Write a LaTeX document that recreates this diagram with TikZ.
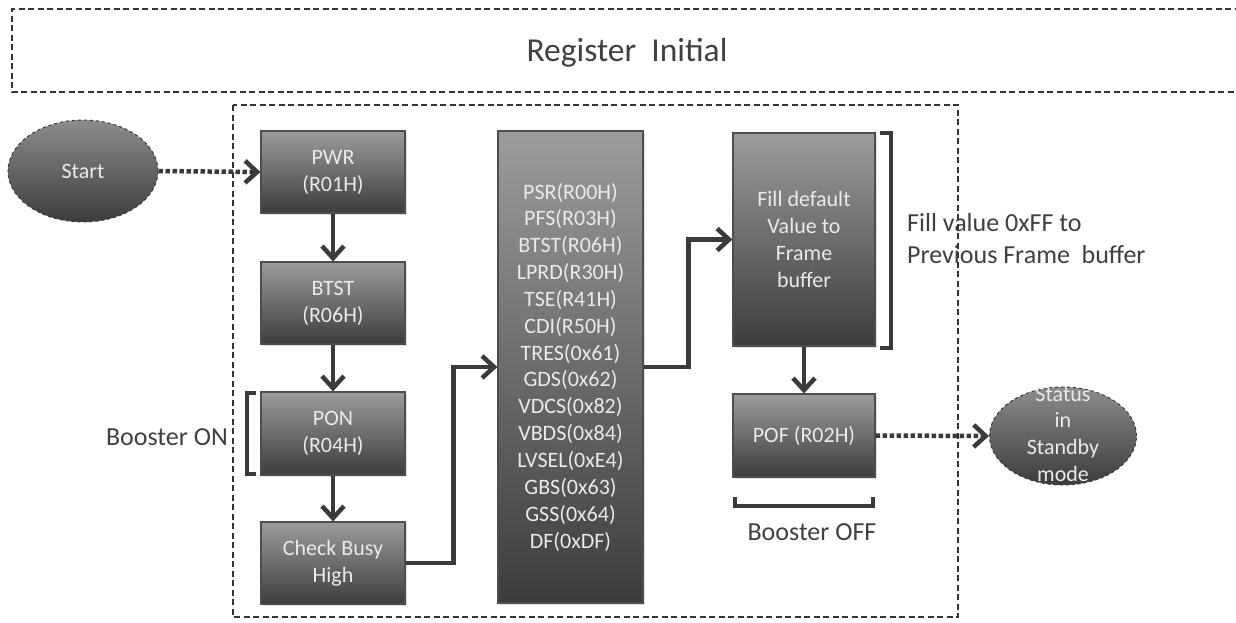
\documentclass[tikz,border=0pt]{standalone}
\usepackage{fontspec}
\setmainfont{Carlito}
\usetikzlibrary{arrows.meta,shapes.geometric,shadows}
\definecolor{linec}{HTML}{3A3A3A}
\definecolor{boxtop}{HTML}{9C9C9C}
\definecolor{boxbot}{HTML}{3C3C3C}
\definecolor{boxtxt}{HTML}{EAEAEA}
\definecolor{labtxt}{HTML}{404040}
\tikzset{
  stepbox/.style={rectangle, draw=linec!90, line width=1.2pt, top color=boxtop, bottom color=boxbot,
    text=boxtxt, align=center, minimum width=#1, inner sep=0pt,
    font=\fontsize{22}{27}\selectfont,
    drop shadow={shadow xshift=2pt, shadow yshift=-2pt, opacity=0.25}},
  stepbox/.default=144pt,
  ovalnode/.style={ellipse, draw=linec, dashed, line width=1pt, top color=boxtop!90!black, bottom color=boxbot,
    inner sep=0pt, minimum width=#1},
  flow/.style={draw=linec, line width=4.5pt, -{Straight Barb[length=12pt,width=22pt]}},
  dotflow/.style={draw=linec, line width=4.5pt, dash pattern=on 4.5pt off 2.5pt, -{Straight Barb[length=12pt,width=22pt]}},
  bracketline/.style={draw=linec, line width=4pt},
  framebox/.style={draw=black!80, line width=1.1pt, dash pattern=on 6pt off 3.5pt},
  labeltext/.style={text=labtxt, inner sep=0pt, font=\fontsize{26}{32}\selectfont},
}
\begin{document}
\begin{tikzpicture}[x=1pt,y=-1pt]
\useasboundingbox (0,0) rectangle (1236,622);
\fill[white] (0,0) rectangle (1236,622);
% frames
\draw[framebox] (1250,9) -- (12,9) -- (12,92) -- (1250,92);
\node[text=labtxt, font=\fontsize{33.5}{40}\selectfont] (title) at (627,53) {Register\ \ Initial};
\draw[framebox] (233,105) rectangle (958,617);
% nodes
\node[ovalnode=150pt, minimum height=102pt] (start) at (83,171) {};
\node[text=boxtxt, font=\fontsize{22}{27}\selectfont] (starttxt) at (start.center) {Start};
\node[stepbox, minimum height=82pt] (pwr) at (333,172) {PWR\\(R01H)};
\node[stepbox, minimum height=82pt] (btst) at (333,303) {BTST\\(R06H)};
\node[stepbox, minimum height=83pt] (pon) at (333,433.5) {PON\\(R04H)};
\node[stepbox, minimum height=82pt] (chk) at (333,563) {Check Busy\\High};
\node[stepbox=145pt, minimum height=472pt, font=\fontsize{22}{26.85}\selectfont] (reg) at (570.5,367)
  {PSR(R00H)\\PFS(R03H)\\BTST(R06H)\\LPRD(R30H)\\TSE(R41H)\\CDI(R50H)\\TRES(0x61)\\GDS(0x62)\\VDCS(0x82)\\VBDS(0x84)\\LVSEL(0xE4)\\GBS(0x63)\\GSS(0x64)\\DF(0xDF)};
\node[stepbox=142pt, minimum height=213pt] (fill) at (804,239.5) {Fill default\\Value to\\Frame\\buffer};
\node[stepbox=142pt, minimum height=83pt] (pof) at (804,435.5) {POF (R02H)};
\node[ovalnode=147pt, minimum height=98pt] (status) at (1063,436) {};
\node[text=boxtxt, align=center, font=\fontsize{22}{26.7}\selectfont] (statustxt) at (1063,434) {Status\\in\\Standby\\mode};
% connectors
\draw[dotflow] (start.east) -- (pwr.west);
\draw[flow] (pwr.south) -- (btst.north);
\draw[flow] (btst.south) -- (pon.north);
\draw[flow] (pon.south) -- (chk.north);
\draw[flow] (chk.east) -- ++(48,0) |- (reg.west);
\draw[flow] (reg.east) -- ++(45,0) |- (fill.west);
\draw[flow] (fill.south) -- (pof.north);
\draw[dotflow] (pof.east) -- (status.west);
% brackets and labels
\draw[bracketline] (256,393) -- (247,393) -- (247,474) -- (256,474);
\node[labeltext, anchor=east] (boosteron) at (228,437) {Booster ON};
\draw[bracketline] (880,133) -- (891,133) -- (891,348) -- (880,348);
\node[labeltext, anchor=west, align=left] (fillnote) at (907,239) {Fill value 0xFF to\\Previous Frame\ \ buffer};
\draw[bracketline] (735,497) -- (735,506) -- (873,506) -- (873,497);
\node[labeltext] (boosteroff) at (812,532) {Booster OFF};
\end{tikzpicture}
\end{document}
